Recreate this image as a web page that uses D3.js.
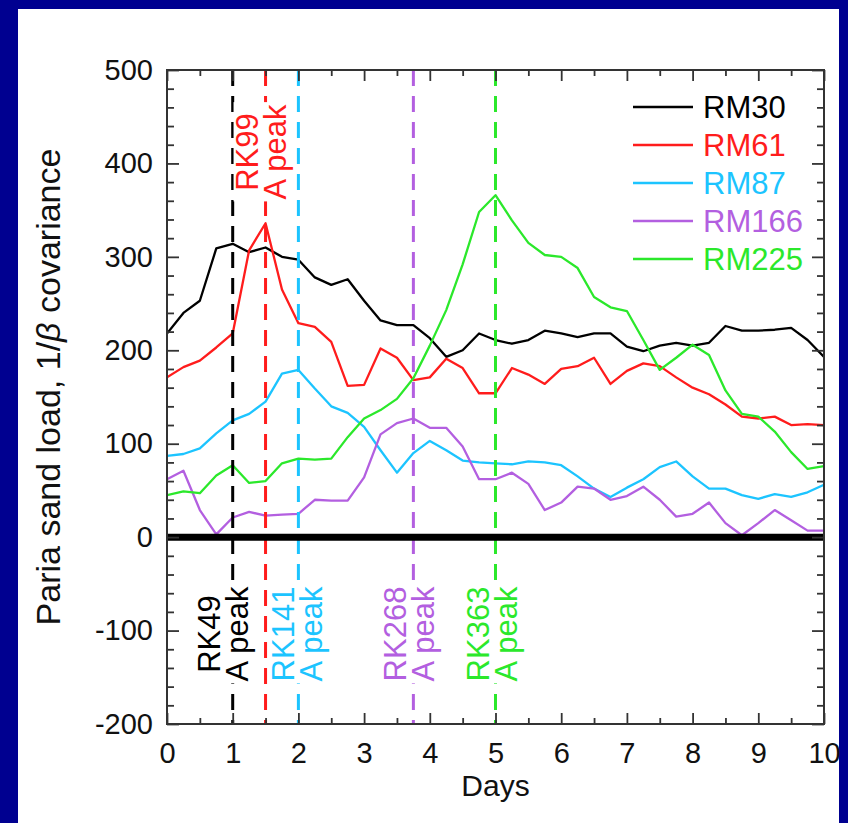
<!DOCTYPE html>
<html><head><meta charset="utf-8">
<script src="https://cdn.jsdelivr.net/npm/d3@7"></script>
<style>body{margin:0;background:#000090}svg{display:block}text{font-family:"Liberation Sans",Arial,Helvetica,sans-serif}</style>
</head><body><svg id="c" width="848" height="823"></svg>
<script>
const days = [0,0.25,0.5,0.75,1,1.25,1.5,1.75,2,2.25,2.5,2.75,3,3.25,3.5,3.75,4,4.25,4.5,4.75,5,5.25,5.5,5.75,6,6.25,6.5,6.75,7,7.25,7.5,7.75,8,8.25,8.5,8.75,9,9.25,9.5,9.75,10];
const rm30  = [218,240,253,309,314,305,310,300,297,278,270,276,253,232,227,227,213,193,200,218,211,207,211,221,218,214,218,218,204,199,205,208,205,208,226,221,221,222,224,211,193];
const rm61  = [171,182,189,203,218,307,336,265,229,225,209,162,163,202,192,168,171,191,181,154,154,181,174,164,180,183,192,164,178,186,183,171,160,153,142,129,127,129,120,121,120];
const rm87  = [87,89,95,111,125,132,145,175,179,159,140,133,118,93,69,90,103,93,82,80,79,78,81,80,77,65,52,43,53,62,75,81,65,52,52,45,41,46,43,48,56];
const rm166 = [62,71,29,3,21,27,23,24,25,40,39,39,64,110,122,127,117,117,97,62,62,69,57,29,37,54,52,40,44,54,40,22,25,37,15,2,15,29,18,7,7];
const rm225 = [45,49,47,66,77,58,60,79,84,83,84,107,127,136,148,170,205,243,292,348,366,339,315,302,300,288,257,246,242,211,179,192,206,195,157,132,129,113,91,73,76];
const seriesNames = ["RM30","RM61","RM87","RM166","RM225"];
const seriesValues = [rm30, rm61, rm87, rm166, rm225];
const seriesColors = ["#000000","#ff1c1c","#1cc4ff","#b35fe0","#2be82b"];
const peakDays = [1, 1.5, 2, 3.75, 5];
const peakLabels = ["RK49","RK99","RK141","RK268","RK363"];
const peakSub = ["A peak","A peak","A peak","A peak","A peak"];
const peakPlace = ["bottom","top","bottom","bottom","bottom"];
const peakColors = ["#000000","#ff1c1c","#1cc4ff","#b35fe0","#2be82b"];
const xMajor = [0,1,2,3,4,5,6,7,8,9,10];
const xMinor = [0.5,1.5,2.5,3.5,4.5,5.5,6.5,7.5,8.5,9.5];
const yMajor = [-200,-100,0,100,200,300,400,500];
const yMinor = [-180,-160,-140,-120,-80,-60,-40,-20,20,40,60,80,120,140,160,180,220,240,260,280,320,340,360,380,420,440,460,480];

const svg = d3.select("#c");
svg.append("rect").attr("width",848).attr("height",823).attr("fill","#000090");
svg.append("rect").attr("x",18).attr("y",9).attr("width",821).attr("height",814).attr("fill","#ffffff");

const L=167,R=824,T=70,B=724;
const x = d3.scaleLinear().domain([0,10]).range([L,R]);
const y = d3.scaleLinear().domain([-200,500]).range([B,T]);

svg.append("clipPath").attr("id","clip").append("rect").attr("x",L).attr("y",T).attr("width",R-L).attr("height",B-T);

const plot = svg.append("g").attr("clip-path","url(#clip)");
const line = d3.line().x((d,i)=>x(days[i])).y(d=>y(d));
seriesValues.forEach((vals,k)=>{
  plot.append("path").datum(vals).attr("d",line).attr("fill","none")
    .attr("stroke",seriesColors[k]).attr("stroke-width",2.3).attr("stroke-linejoin","round");
});

peakDays.forEach((d,k)=>{
  plot.append("line").attr("x1",x(d)).attr("x2",x(d)).attr("y1",T).attr("y2",B)
    .attr("stroke",peakColors[k]).attr("stroke-width",3).attr("stroke-dasharray","16,10");
});

plot.append("line").attr("x1",L).attr("x2",R).attr("y1",y(0)).attr("y2",y(0))
  .attr("stroke","#000").attr("stroke-width",7);

const labelOff = [-13,-8,-4,-7,-7];
peakDays.forEach((d,k)=>{
  const cy = peakPlace[k]==="top" ? 152 : 634;
  const g = svg.append("g").attr("transform",`translate(${x(d)},${cy}) rotate(-90)`);
  const bg = g.append("rect").attr("fill","#fff");
  const t1 = g.append("text").attr("x",0).attr("y",labelOff[k]).attr("text-anchor","middle")
    .attr("font-size",31).attr("fill",peakColors[k]).text(peakLabels[k]);
  const t2 = g.append("text").attr("x",0).attr("y",labelOff[k]+28).attr("text-anchor","middle")
    .attr("font-size",31).attr("fill",peakColors[k]).text(peakSub[k]);
  const b1 = t1.node().getBBox(), b2 = t2.node().getBBox();
  const x0 = Math.min(b1.x,b2.x)-2, x1 = Math.max(b1.x+b1.width,b2.x+b2.width)+2;
  const y0 = Math.min(b1.y,b2.y)+4, y1 = Math.max(b1.y+b1.height,b2.y+b2.height)-2;
  bg.attr("x",x0).attr("y",y0).attr("width",x1-x0).attr("height",y1-y0);
});

const fmt = d => String(d);
const axStyle = g => { g.select(".domain").remove(); g.selectAll("line").attr("stroke","#333").attr("stroke-width",1.8); g.selectAll("text").attr("font-size",29).attr("fill","#111").style("font-family",'"Liberation Sans",Arial,sans-serif'); };
svg.append("g").attr("transform",`translate(0,${B})`).call(d3.axisBottom(x).tickValues(xMajor).tickFormat(fmt).tickSize(-11).tickPadding(18)).call(axStyle);
svg.append("g").attr("transform",`translate(0,${B})`).call(d3.axisBottom(x).tickValues(xMinor).tickFormat("").tickSize(-6)).call(axStyle);
svg.append("g").attr("transform",`translate(0,${T})`).call(d3.axisTop(x).tickValues(xMajor).tickFormat("").tickSize(-11)).call(axStyle);
svg.append("g").attr("transform",`translate(0,${T})`).call(d3.axisTop(x).tickValues(xMinor).tickFormat("").tickSize(-6)).call(axStyle);
svg.append("g").attr("transform",`translate(${L},0)`).call(d3.axisLeft(y).tickValues(yMajor).tickFormat(fmt).tickSize(-12).tickPadding(14)).call(axStyle);
svg.append("g").attr("transform",`translate(${L},0)`).call(d3.axisLeft(y).tickValues(yMinor).tickFormat("").tickSize(-7)).call(axStyle);
svg.append("g").attr("transform",`translate(${R},0)`).call(d3.axisRight(y).tickValues(yMajor).tickFormat("").tickSize(-12)).call(axStyle);
svg.append("g").attr("transform",`translate(${R},0)`).call(d3.axisRight(y).tickValues(yMinor).tickFormat("").tickSize(-7)).call(axStyle);

svg.append("rect").attr("x",L).attr("y",T).attr("width",R-L).attr("height",B-T)
  .attr("fill","none").attr("stroke","#333").attr("stroke-width",2);

svg.append("text").attr("x",(L+R)/2).attr("y",796).attr("text-anchor","middle")
  .attr("font-size",30).attr("fill","#111").text("Days");
const yt = svg.append("text").attr("transform",`translate(60,${(T+B)/2 - 10}) rotate(-90)`)
  .attr("text-anchor","middle").attr("font-size",34).attr("fill","#111");
yt.append("tspan").text("Paria sand load, 1/");
yt.append("tspan").attr("font-style","italic").text("β");
yt.append("tspan").text(" covariance");

const lg = svg.append("g");
seriesNames.forEach((n,k)=>{
  const ly = 107 + k*38;
  lg.append("line").attr("x1",633).attr("x2",693).attr("y1",ly).attr("y2",ly)
    .attr("stroke",seriesColors[k]).attr("stroke-width",2.3);
  lg.append("text").attr("x",703).attr("y",ly).attr("dy","0.36em").attr("font-size",31)
    .attr("fill",seriesColors[k]).text(n);
});
</script></body></html>
